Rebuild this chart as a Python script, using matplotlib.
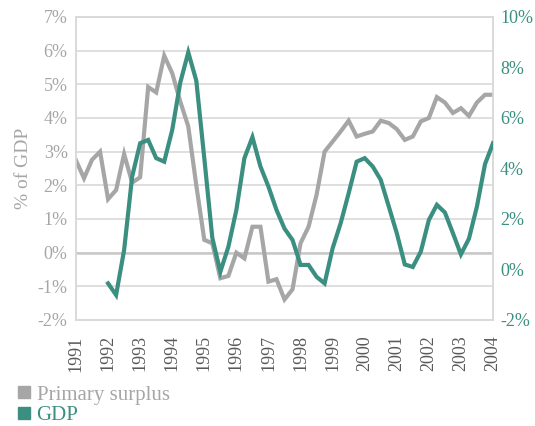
import matplotlib
matplotlib.use("Agg")
import matplotlib.pyplot as plt
from matplotlib.lines import Line2D
import numpy as np

plt.rcParams['font.family'] = ['Liberation Serif', 'DejaVu Serif']

years = ["1991", "1992", "1993", "1994", "1995", "1996", "1997",
         "1998", "1999", "2000", "2001", "2002", "2003", "2004"]

# quarterly values, 1991Q1 .. 2004Q1
primary_surplus = [2.74, 2.21, 2.76, 3.00, 1.59, 1.86, 2.93, 2.08, 2.24, 4.92,
                   4.76, 5.85, 5.33, 4.49, 3.75, 2.00, 0.38, 0.28, -0.76, -0.69,
                   0.00, -0.17, 0.77, 0.77, -0.86, -0.79, -1.39, -1.09, 0.28, 0.77,
                   1.72, 3.00, 3.30, 3.60, 3.92, 3.45, 3.53, 3.60, 3.92, 3.85,
                   3.67, 3.35, 3.45, 3.90, 4.00, 4.62, 4.46, 4.15, 4.29, 4.06,
                   4.46, 4.69, 4.69]

gdp = [None, None, None, None, -0.55, -1.01, 0.77, 3.68, 5.00, 5.13,
       4.41, 4.27, 5.53, 7.40, 8.60, 7.48, 4.40, 1.25, -0.09, 0.90,
       2.36, 4.41, 5.24, 4.08, 3.28, 2.36, 1.62, 1.17, 0.18, 0.18,
       -0.29, -0.55, 0.84, 1.83, 3.02, 4.27, 4.41, 4.08, 3.55, 2.50,
       1.44, 0.20, 0.10, 0.71, 1.96, 2.56, 2.26, 1.44, 0.60, 1.22,
       2.50, 4.17, 5.00]

left_ticks = [-2, -1, 0, 1, 2, 3, 4, 5, 6, 7]
right_ticks = [-2, 0, 2, 4, 6, 8, 10]

GRAY = '#A6A6A6'
TEAL = '#3A8F80'
GRID = '#D9D9D9'

fig = plt.figure(figsize=(5.35, 4.26), dpi=100)
ax = fig.add_axes([76/535, 1-320/426, (493-76)/535, (320-17)/426])
ax2 = ax.twinx()

x = np.arange(len(primary_surplus))
gdp_arr = np.array([np.nan if v is None else v for v in gdp], dtype=float)

ax.set_ylim(-2, 7)
ax.set_xlim(0, len(primary_surplus) - 1)
ax2.set_ylim(-2, 10)

ax.set_yticks(left_ticks)
ax.set_yticklabels([f"{t}%" for t in left_ticks])
ax2.set_yticks(right_ticks)
ax2.set_yticklabels([f"{t}%" for t in right_ticks])

ax.grid(axis='y', color=GRID, linewidth=1.2)
ax.set_axisbelow(True)
ax.axhline(0, color='#C8C8C8', linewidth=1.8, zorder=1)

ax.plot(x, primary_surplus, color=GRAY, linewidth=3.0, solid_joinstyle='miter', zorder=3)
ax2.plot(x, gdp_arr, color=TEAL, linewidth=3.0, solid_joinstyle='miter', zorder=3)

ax.set_xticks(x[::4])
ax.set_xticklabels(years, rotation=90, color='#595959', fontsize=13)
ax.tick_params(axis='x', length=0, pad=11)
ax.tick_params(axis='y', length=0, pad=6, labelcolor=GRAY, labelsize=13)
ax2.tick_params(axis='y', length=0, pad=5, labelcolor=TEAL, labelsize=13)

for a in (ax, ax2):
    for s in a.spines.values():
        s.set_color(GRID)
        s.set_linewidth(1.2)

ax.set_ylabel('% of GDP', color=GRAY, fontsize=14, labelpad=4)

handles = [Line2D([], [], marker='s', linestyle='none', color=GRAY, markersize=8),
           Line2D([], [], marker='s', linestyle='none', color=TEAL, markersize=8)]
leg = fig.legend(handles, ['Primary surplus', 'GDP'], loc='lower left',
                 bbox_to_anchor=(0.01, -0.018), frameon=False, fontsize=15,
                 handletextpad=0.1, labelspacing=0.05, handlelength=1.0,
                 borderaxespad=0.0)
for t, c in zip(leg.get_texts(), [GRAY, TEAL]):
    t.set_color(c)

fig.savefig('out.png', dpi=100)
